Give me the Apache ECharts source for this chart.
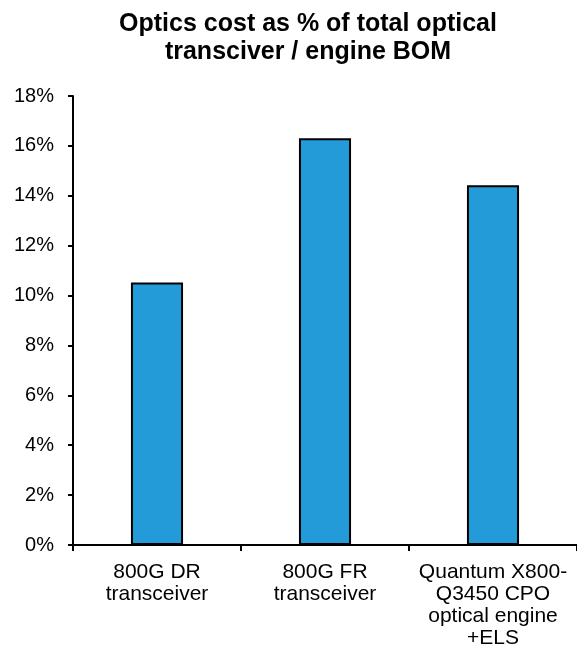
<!DOCTYPE html>
<html lang="en">
<head>
  <title>Optics cost share</title>
  <meta charset="utf-8" />
  <script src="https://cdn.jsdelivr.net/npm/echarts@6/dist/echarts.min.js"></script>
  <style>
    body { margin: 0; background-color: #ffffff; }
    #main { width: 577px; height: 653px; }
  </style>
</head>
<body>
<div id="main"></div>
<script type="text/javascript">
  let titleLines = ['Optics cost as % of total optical', 'transciver / engine BOM']
  let categories = ['800G DR\ntransceiver', '800G FR\ntransceiver', 'Quantum X800-\nQ3450 CPO\noptical engine\n+ELS']
  let optics = [10.52, 16.31, 14.42]
  let yMin = 0
  let yMax = 18
  let yStep = 2

  let barColor = '#229BD8'
  let fontName = 'Liberation Sans, Arial, sans-serif'

  let chart = echarts.init(document.getElementById('main'), null, { renderer: 'canvas' })

  let option = {
    animation: false,
    backgroundColor: '#ffffff',
    title: {
      text: titleLines.join('\n'),
      left: 303,
      top: 5,
      textAlign: 'center',
      textStyle: {
        fontFamily: fontName,
        fontWeight: 'bold',
        fontSize: 25,
        lineHeight: 28,
        color: '#000000',
      },
    },
    grid: {
      left: 73,
      top: 96,
      width: 505,
      bottom: 108,
      containLabel: false,
    },
    xAxis: {
      type: 'category',
      data: categories,
      axisLine: { lineStyle: { color: '#000000', width: 2 } },
      axisTick: { show: true, length: 6, lineStyle: { color: '#000000', width: 2 } },
      axisLabel: {
        interval: 0,
        margin: 16,
        fontFamily: fontName,
        fontSize: 21,
        lineHeight: 22,
        color: '#000000',
      },
    },
    yAxis: {
      type: 'value',
      min: yMin,
      max: yMax,
      interval: yStep,
      splitLine: { show: false },
      axisLine: { show: true, lineStyle: { color: '#000000', width: 2 } },
      axisTick: { show: true, length: 5, lineStyle: { color: '#000000', width: 2 } },
      axisLabel: {
        margin: 19,
        fontFamily: fontName,
        fontSize: 20,
        color: '#000000',
        formatter: v => v + '%',
      },
    },
    series: [
      {
        type: 'bar',
        data: optics,
        barWidth: '31%',
        itemStyle: {
          color: barColor,
          borderColor: '#000000',
          borderWidth: 2,
        },
      },
    ],
  }

  chart.setOption(option)
</script>
</body>
</html>
